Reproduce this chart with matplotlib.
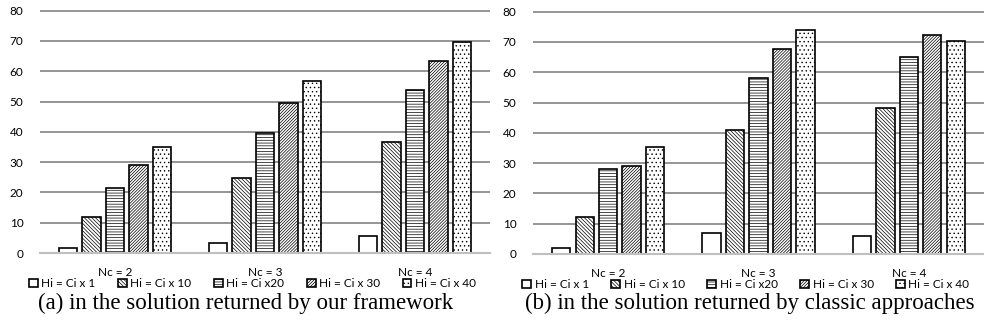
import matplotlib
matplotlib.use("Agg")
import matplotlib.pyplot as plt
import numpy as np

categories = ["Nc = 2", "Nc = 3", "Nc = 4"]
series_labels = ["Hi = Ci x 1", "Hi = Ci x 10", "Hi = Ci x20", "Hi = Ci x 30", "Hi = Ci x 40"]
framework_values = [
    [1.5, 3.4, 5.7],
    [12.0, 24.7, 36.6],
    [21.4, 39.6, 53.8],
    [28.9, 49.5, 63.4],
    [35.1, 56.7, 69.6],
]
classic_values = [
    [2.0, 7.0, 5.8],
    [12.2, 41.0, 48.2],
    [27.9, 58.2, 64.9],
    [28.9, 67.8, 72.2],
    [35.3, 73.8, 70.3],
]
captions = ["(a) in the solution returned by our framework",
            "(b) in the solution returned by classic approaches"]
yticks = [0, 10, 20, 30, 40, 50, 60, 70, 80]

hatches = ["", "\\" * 9, "-" * 6, "/" * 11, "...."]

plt.rcParams["font.family"] = ["Lato", "DejaVu Sans"]
plt.rcParams["hatch.linewidth"] = 0.5

fig = plt.figure(figsize=(9.84, 3.29), dpi=100)
W, H = 984, 329
px_per_unit = 3.03
ymax = 81

def make_axes(left_px, width_px, zero_px):
    bottom = 1 - zero_px / H
    height = ymax * px_per_unit / H
    return fig.add_axes([left_px / W, bottom, width_px / W, height])

panels = [
    (make_axes(40, 450, 253), framework_values, captions[0], 246),
    (make_axes(533, 451, 254), classic_values, captions[1], 750),
]

x = np.arange(len(categories))
pitch = 0.156
width = 0.122

for ax, vals, cap, capx in panels:
    for i, (lab, v) in enumerate(zip(series_labels, vals)):
        ax.bar(x + (i - 2) * pitch, v, width, color="white", edgecolor="black",
               linewidth=1.2, hatch=hatches[i], label=lab, zorder=3)
    ax.set_xlim(-0.5, 2.5)
    ax.set_ylim(0, ymax)
    ax.set_yticks(yticks)
    ax.set_yticklabels([str(t) for t in yticks], fontsize=8.5)
    ax.set_xticks(x)
    ax.set_xticklabels(categories, fontsize=8.5)
    ax.tick_params(axis="both", length=0)
    ax.tick_params(axis="y", pad=12)
    ax.tick_params(axis="x", pad=10)
    ax.grid(axis="y", color="#8c8c8c", linewidth=1.3, zorder=0)
    ax.set_axisbelow(True)
    for s in ["top", "right", "left"]:
        ax.spines[s].set_visible(False)
    ax.spines["bottom"].set_color("#bfbfbf")
    ax.spines["bottom"].set_linewidth(1.5)
    ax.spines["bottom"].set_zorder(4)
    leg = ax.legend(loc="center", bbox_to_anchor=(0.472, -0.125), ncol=5,
                    frameon=False, fontsize=8.5, handlelength=0.75, handleheight=0.75,
                    handletextpad=0.3, columnspacing=1.9, borderpad=0)
    fig.text(capx / W, 1 - 303 / H, cap, ha="center", va="center",
             fontsize=16.5, family="Liberation Serif")

fig.savefig("out.png", dpi=100)
